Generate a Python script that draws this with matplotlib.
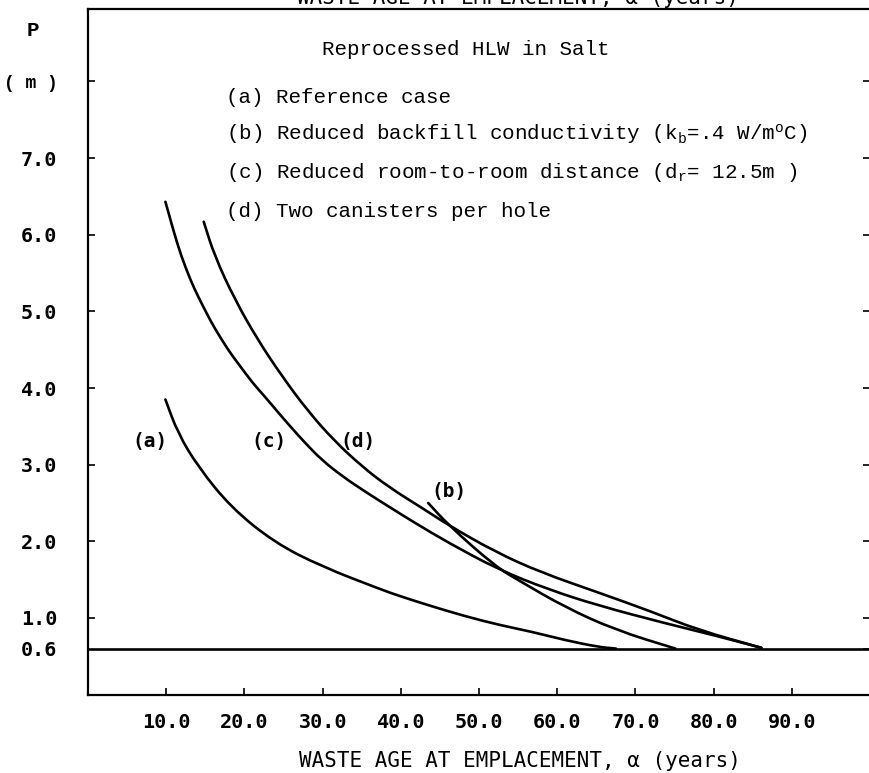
import numpy as np
import matplotlib.pyplot as plt
from matplotlib.path import Path
from matplotlib.patches import PathPatch

plt.rcParams['mathtext.default'] = 'regular'

# Curves (waste age in years, pitch P in m)
a_age = [9.9, 11.5, 14.1, 18.3, 23.9, 29.9, 37.5, 39.7, 44.0, 48.3, 52.5, 56.7,
         61.0, 65.3, 67.5]
a_pitch = [3.85, 3.41, 2.97, 2.44, 1.98, 1.67, 1.37, 1.29, 1.15, 1.02, 0.91, 0.82,
           0.71, 0.62, 0.60]

b_age = [43.5, 46.1, 52.1, 55.4, 61.0, 67.5, 75.1]
b_pitch = [2.50, 2.21, 1.67, 1.47, 1.14, 0.84, 0.60]

c_age = [9.9, 10.4, 11.0, 11.9, 13.1, 14.1, 15.3, 16.2, 17.9, 19.2, 21.1, 22.6,
         24.5, 25.6, 27.7, 29.9, 32.5, 35.4, 38.5, 41.8, 46.1, 52.5, 58.9, 65.3,
         73.8, 80.2, 86.1]
c_pitch = [6.43, 6.25, 6.03, 5.73, 5.41, 5.19, 4.95, 4.78, 4.50, 4.32, 4.06, 3.89,
           3.66, 3.53, 3.29, 3.06, 2.85, 2.65, 2.45, 2.24, 1.98, 1.63, 1.37, 1.16,
           0.93, 0.77, 0.61]

d_age = [14.8, 16.2, 18.8, 21.7, 24.7, 28.1, 31.6, 35.0, 38.4, 43.1, 46.1, 52.1,
         58.0, 65.3, 72.1, 78.1, 86.1]
d_pitch = [6.17, 5.72, 5.15, 4.63, 4.17, 3.70, 3.30, 2.98, 2.71, 2.41, 2.21, 1.86,
           1.59, 1.33, 1.08, 0.84, 0.61]

p_min = 0.6

x_ticks = [10, 20, 30, 40, 50, 60, 70, 80, 90]
x_labels = ['10.0', '20.0', '30.0', '40.0', '50.0', '60.0', '70.0', '80.0', '90.0']
y_ticks = [0.6, 1, 2, 3, 4, 5, 6, 7, 8]
y_labels = ['0.6', '1.0', '2.0', '3.0', '4.0', '5.0', '6.0', '7.0', '( m )']

legend_lines = [
    '(a) Reference case',
    '(b) Reduced backfill conductivity (k$_b$=.4 W/m$^o$C)',
    '(c) Reduced room-to-room distance (d$_r$= 12.5m )',
    '(d) Two canisters per hole',
]

mono = 'Liberation Mono'
sans_mono = 'DejaVu Sans Mono'


def smooth_line(ax, xs, ys, **kw):
    # quadratic bezier through the midpoints of the read points
    pts = np.column_stack([xs, ys])
    verts = [pts[0], (pts[0] + pts[1]) / 2]
    codes = [Path.MOVETO, Path.LINETO]
    for i in range(1, len(pts) - 1):
        verts += [pts[i], (pts[i] + pts[i + 1]) / 2]
        codes += [Path.CURVE3, Path.CURVE3]
    verts.append(pts[-1])
    codes.append(Path.LINETO)
    ax.add_patch(PathPatch(Path(verts, codes), fill=False, capstyle='round', **kw))


fig = plt.figure(figsize=(8.7, 7.73), dpi=100)
ax = fig.add_axes([0.1011, 0.1015, 0.899, 0.8873])

lw = 1.9
ax.axhline(p_min, color='black', lw=lw)
for xs, ys in [(a_age, a_pitch), (b_age, b_pitch), (c_age, c_pitch), (d_age, d_pitch)]:
    smooth_line(ax, xs, ys, edgecolor='black', lw=lw)

ax.set_xlim(0, 100)
ax.set_ylim(0, 8.95)

ax.set_xticks(x_ticks)
ax.set_xticklabels(x_labels, fontfamily=sans_mono, fontweight='bold', fontsize=14.5)
ax.set_yticks(y_ticks)
ax.set_yticklabels(y_labels, fontfamily=sans_mono, fontweight='bold', fontsize=14.5)
m_label = ax.yaxis.get_ticklabels()[-1]
m_label.set_fontfamily(mono)
m_label.set_fontsize(13)
ax.yaxis.get_major_ticks()[0].tick1line.set_visible(False)
ax.yaxis.get_major_ticks()[0].tick2line.set_visible(False)

ax.tick_params(axis='x', direction='in', length=5, width=1.2, pad=13)
ax.tick_params(axis='y', direction='in', length=5, width=1.2, pad=22, right=True)

ax.spines['right'].set_visible(False)
for s in ['left', 'top', 'bottom']:
    ax.spines[s].set_linewidth(1.6)

ax.set_xlabel('WASTE AGE AT EMPLACEMENT, α (years)', fontfamily=sans_mono, fontsize=15)
ax.xaxis.set_label_coords(0.552, -0.083)

# curve tags
tag_kw = dict(fontfamily=sans_mono, fontweight='bold', fontsize=14,
              ha='center', va='center')
ax.text(7.9, 3.30, '(a)', **tag_kw)
ax.text(23.2, 3.30, '(c)', **tag_kw)
ax.text(34.5, 3.30, '(d)', **tag_kw)
ax.text(46.1, 2.65, '(b)', **tag_kw)

# header and key
ax.text(48.3, 8.42, 'Reprocessed HLW in Salt', fontfamily=mono, fontsize=15,
        ha='center', va='center')
key_y = [7.79, 7.31, 6.81, 6.30]
for txt, yy in zip(legend_lines, key_y):
    ax.text(17.6, yy, txt, fontfamily=mono, fontsize=15, ha='left', va='center')

fig.text(33 / 870, 1 - 30 / 773, 'P', fontfamily=mono, fontweight='bold',
         fontsize=15, ha='center', va='center')

# clipped caption of the figure above on the scanned page
fig.text(0.595, 1 - 4 / 773, 'WASTE AGE AT EMPLACEMENT, α (years)',
         fontfamily=sans_mono, fontsize=15, ha='center', va='baseline')

fig.savefig('out.png', dpi=100)
